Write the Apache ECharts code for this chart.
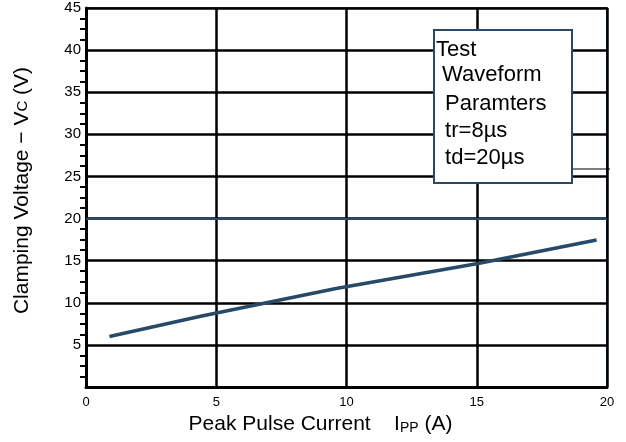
<!DOCTYPE html>
<html>
<head>
<meta charset="utf-8">
<script src="https://cdn.jsdelivr.net/npm/echarts@6/dist/echarts.min.js"></script>
<style>
html, body { margin: 0; padding: 0; background: #fff; }
#main { width: 626px; height: 442px; }
</style>
</head>
<body>
<div id="main"></div>
<script>
// values
var currentA = [0.9, 4.4, 9.6, 15.1, 19.6];
var voltageV = [6.0, 8.4, 11.7, 14.7, 17.45];
var boxTitle = ['Test', ' Waveform'];
var boxParams = [' Paramters', ' tr=8µs', ' td=20µs'];

var navy = '#264a68';
var font = 'Liberation Sans, Arial, sans-serif';

var pts = [];
for (var i = 0; i < currentA.length; i++) {
	pts.push([currentA[i], voltageV[i]]);
}

var myChart = echarts.init(document.getElementById('main'));
myChart.setOption({
	animation: false,
	grid: {
		left: 86, right: 19, top: 8, bottom: 55,
		show: true,
		borderColor: navy,
		borderWidth: 2
	},
	xAxis: {
		type: 'value',
		min: 0, max: 20, interval: 5,
		name: '{a|Peak Pulse Current    I}{s|PP}{a| (A)}',
		nameLocation: 'middle',
		nameGap: 26,
		nameTextStyle: {
			padding: [0, 52, 0, 0],
			rich: {
				a: { fontFamily: font, fontSize: 21, color: '#000' },
				s: { fontFamily: font, fontSize: 14, color: '#000', padding: [7, 0, 0, 0] }
			}
		},
		axisLine: { lineStyle: { color: '#000', width: 3 } },
		axisTick: { show: false },
		axisLabel: { fontFamily: font, fontSize: 13, color: '#000', margin: 9 },
		splitLine: { show: true, lineStyle: { color: '#000', width: 2.5 } }
	},
	yAxis: {
		type: 'value',
		min: 0, max: 45, interval: 5,
		name: '{a|Clamping Voltage − V}{c|C}{a| (V)}',
		nameLocation: 'middle',
		nameGap: 53,
		nameTextStyle: {
			padding: [0, 0, 0, 14],
			rich: {
				a: { fontFamily: font, fontSize: 21, color: '#000' },
				c: { fontFamily: font, fontSize: 15, color: '#000' }
			}
		},
		axisLine: { lineStyle: { color: '#000', width: 3 } },
		axisTick: { show: false },
		minorTick: { show: true, splitNumber: 4, length: 6, lineStyle: { color: '#000', width: 2 } },
		axisLabel: {
			fontFamily: font, fontSize: 15, color: '#000', margin: 5,
			formatter: function(v) { return v === 0 ? '' : v; }
		},
		splitLine: { show: true, lineStyle: { color: '#000', width: 2.5 } }
	},
	series: [{
		type: 'line',
		data: pts,
		symbol: 'none',
		lineStyle: { color: navy, width: 3.5 },
		markLine: {
			silent: true,
			symbol: 'none',
			label: { show: false },
			lineStyle: { color: navy, width: 2, type: 'solid' },
			data: [{ yAxis: 20 }]
		}
	}],
	graphic: [
		{
			type: 'line', z: 50,
			shape: { x1: 572, y1: 169, x2: 610, y2: 169 },
			style: { stroke: '#000', lineWidth: 1 }
		},
		{
			type: 'rect', z: 60,
			shape: { x: 434, y: 30, width: 138, height: 153 },
			style: { fill: '#fff', stroke: navy, lineWidth: 2 }
		},
		{
			type: 'text', z: 61, left: 436, top: 37,
			style: { text: boxTitle.join('\n'), font: '22px ' + font, fill: '#000', lineHeight: 25 }
		},
		{
			type: 'text', z: 61, left: 439, top: 90,
			style: { text: boxParams.join('\n'), font: '22px ' + font, fill: '#000', lineHeight: 27 }
		}
	]
});
</script>
</body>
</html>
